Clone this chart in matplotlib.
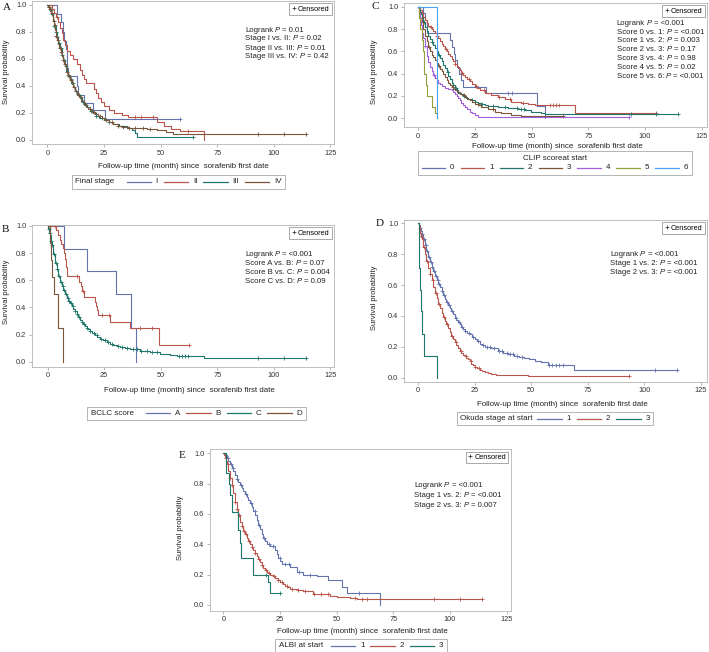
import numpy as np
import matplotlib
matplotlib.use('Agg')
import matplotlib.pyplot as plt
from matplotlib.lines import Line2D
from matplotlib.offsetbox import TextArea, DrawingArea, HPacker, VPacker, AnchoredOffsetbox

plt.rcParams['font.family'] = ['Liberation Sans', 'DejaVu Sans']

# ---------------- DATA ----------------
x_ticks = [0, 25, 50, 75, 100, 125]
y_ticks = [0.0, 0.2, 0.4, 0.6, 0.8, 1.0]
x_label = "Follow-up time (month) since  sorafenib first date"
y_label = "Survival probability"

# Panel A: Final stage
A_title = "Final stage"
A_labels = ["I", "II", "III", "IV"]
A_I_t = [4.1, 6.0, 6.7, 7.3, 8.0, 8.5, 8.8, 9.0, 13.0, 13.7, 16.0, 20.0, 25.5]
A_I_s = [0.93, 0.87, 0.80, 0.73, 0.67, 0.60, 0.53, 0.47, 0.40, 0.33, 0.27, 0.22, 0.155]
A_I_c = [58.4]
A_II_t = [2.0, 2.9, 3.8, 4.7, 5.5, 6.3, 7.0, 7.7, 8.5, 10.0, 11.5, 13.0, 14.4, 15.3, 16.2, 17.0,
          20.5, 21.5, 22.5, 23.5, 25.0, 27.0, 29.5, 33.0, 35.5, 48.3, 51.5, 54.5, 58.5, 69.0]
A_II_s = [0.97, 0.94, 0.91, 0.87, 0.83, 0.79, 0.74, 0.70, 0.66, 0.63, 0.60, 0.56, 0.52, 0.48, 0.45, 0.42,
          0.38, 0.35, 0.31, 0.28, 0.25, 0.22, 0.20, 0.185, 0.17, 0.13, 0.10, 0.08, 0.065, 0.0]
A_II_c = [4.2, 38.5, 41.5, 46.5, 62.0]
A_III_t = [0.6, 1.2, 1.8, 2.4, 3.0, 3.6, 4.2, 4.9, 5.6, 6.3, 7.0, 7.6, 8.3, 9.0, 9.8, 10.6, 11.5, 12.4,
           13.2, 14.2, 15.2, 16.2, 17.4, 18.6, 20.0, 21.5, 23.0, 25.0, 27.0, 29.0, 31.5, 35.0, 37.5, 38.5, 39.5]
A_III_s = [0.98, 0.96, 0.93, 0.89, 0.84, 0.80, 0.76, 0.72, 0.68, 0.63, 0.59, 0.55, 0.51, 0.48, 0.45, 0.42,
           0.39, 0.36, 0.33, 0.31, 0.28, 0.26, 0.24, 0.215, 0.20, 0.18, 0.165, 0.15, 0.13, 0.115, 0.10, 0.085,
           0.07, 0.05, 0.022]
A_III_c = [0.8, 1.5, 2.2, 3.1, 3.7, 4.4, 5.1, 5.8, 6.6, 7.3, 8.1, 9.2, 10.3, 11.1, 12.6, 14.1, 15.6,
           17.1, 19.2, 21.6, 24.2, 27.3, 64.2]
A_IV_t = [0.4, 0.8, 1.2, 1.6, 2.0, 2.6, 3.0, 3.4, 3.8, 4.3, 4.8, 5.3, 5.8, 6.3, 6.9, 7.4, 8.0, 8.5, 9.2,
          10.0, 10.8, 11.5, 12.3, 13.0, 14.0, 15.0, 16.0, 17.0, 18.0, 19.5, 21.0, 22.5, 24.0, 25.5, 27.0,
          29.0, 31.0, 33.0, 36.0, 40.0, 44.0, 48.5, 52.5, 55.5]
A_IV_s = [0.985, 0.97, 0.955, 0.94, 0.92, 0.88, 0.85, 0.81, 0.77, 0.74, 0.71, 0.68, 0.65, 0.62, 0.59,
          0.56, 0.53, 0.50, 0.47, 0.44, 0.415, 0.39, 0.365, 0.34, 0.315, 0.29, 0.265, 0.245, 0.23, 0.21,
          0.19, 0.175, 0.16, 0.145, 0.13, 0.115, 0.105, 0.098, 0.09, 0.085, 0.08, 0.07, 0.06, 0.045]
A_IV_c = [0.5, 1.1, 1.9, 2.7, 3.3, 4.0, 4.6, 5.5, 6.1, 7.0, 7.8, 8.7, 9.6, 10.5, 11.9, 13.3, 14.8,
          16.4, 18.6, 20.4, 23.1, 25.7, 28.4, 31.2, 33.6, 36.2, 38.7, 42.1, 45.2, 93.0, 104.3, 114.4]
A_stat_names = ["Logrank", "Stage I vs. II:", "Stage II vs. III:", "Stage III vs. IV:"]
A_stat_vals = ["0.01", "0.02", "0.01", "0.42"]

# Panel B: BCLC score
B_title = "BCLC score"
B_labels = ["A", "B", "C", "D"]
B_A_t = [7.4, 17.5, 30.2, 36.7, 38.9]
B_A_s = [0.833, 0.667, 0.5, 0.25, 0.0]
B_A_c = []
B_B_t = [3.7, 4.5, 5.3, 6.0, 6.6, 7.2, 7.7, 8.2, 8.7, 14.0, 14.6, 15.0, 16.2, 20.8, 21.5, 22.0, 22.3,
         27.7, 36.3, 49.4]
B_B_s = [0.97, 0.93, 0.90, 0.87, 0.835, 0.80, 0.76, 0.70, 0.63, 0.59, 0.555, 0.52, 0.48, 0.44, 0.41,
         0.38, 0.344, 0.295, 0.25, 0.125]
B_B_c = [3.2, 12.8, 15.6, 24.1, 27.0, 40.8, 46.0, 62.6]
B_C_t = [0.3, 0.7, 1.0, 1.4, 1.8, 2.2, 2.5, 3.2, 4.0, 4.7, 5.5, 6.2, 6.9, 7.6, 8.4, 9.1, 9.9, 10.6,
         11.3, 12.0, 12.8, 13.5, 14.3, 15.0, 15.8, 16.5, 17.2, 18.0, 18.7, 19.8, 20.9, 22.0, 23.1, 24.6,
         26.1, 27.5, 29.0, 30.5, 32.0, 34.2, 36.4, 40.8, 45.3, 49.7, 54.1, 57.0, 69.0]
B_C_s = [0.98, 0.95, 0.93, 0.89, 0.86, 0.82, 0.79, 0.73, 0.68, 0.63, 0.59, 0.56, 0.53, 0.50, 0.47,
         0.45, 0.43, 0.41, 0.39, 0.37, 0.35, 0.33, 0.31, 0.295, 0.28, 0.265, 0.25, 0.238, 0.225, 0.212,
         0.20, 0.185, 0.17, 0.157, 0.145, 0.132, 0.12, 0.115, 0.11, 0.10, 0.09, 0.08, 0.07, 0.06, 0.05,
         0.04, 0.028]
B_C_c = [0.5, 0.9, 1.6, 2.1, 2.8, 3.5, 4.3, 5.0, 5.8, 6.6, 7.3, 8.0, 8.9, 9.6, 10.4, 11.1, 12.2, 13.1,
         14.0, 15.3, 16.2, 17.5, 18.9, 20.3, 21.8, 23.6, 25.4, 26.8, 28.6, 30.9, 33.0, 35.1, 37.9, 39.6,
         41.4, 43.8, 46.3, 48.5, 57.9, 59.3, 60.6, 62.2, 93.0, 104.3, 114.4]
B_D_t = [1.2, 1.5, 1.8, 2.8, 4.7, 6.9]
B_D_s = [0.875, 0.75, 0.625, 0.5, 0.25, 0.0]
B_D_c = []
B_stat_names = ["Logrank", "Score A vs. B:", "Score B vs. C:", "Score C vs. D:"]
B_stat_vals = ["<0.001", "0.07", "0.004", "0.09"]

# Panel C: CLIP score at start
C_title = "CLIP scoreat start"
C_labels = ["0", "1", "2", "3", "4", "5", "6"]
C_0_t = [2.2, 3.0, 3.7, 13.9, 14.8, 15.6, 16.4, 17.2, 18.0, 19.0, 19.8, 30.0, 52.5, 55.8]
C_0_s = [0.94, 0.88, 0.76, 0.70, 0.64, 0.58, 0.52, 0.46, 0.40, 0.34, 0.28, 0.225, 0.11, 0.0]
C_0_c = [39.6, 41.2]
C_1_t = [0.7, 1.5, 2.2, 2.9, 3.7, 4.4, 5.1, 5.9, 6.6, 7.3, 8.1, 8.8, 9.5, 10.3, 11.0, 11.7, 12.5, 13.2,
         13.9, 14.7, 15.4, 16.1, 16.9, 17.6, 18.3, 19.0, 19.8, 20.5, 21.6, 22.7, 23.8, 24.9, 26.0, 27.1,
         29.3, 32.2, 35.2, 38.1, 41.0, 45.4, 48.4, 51.3, 68.9]
C_1_s = [0.97, 0.94, 0.91, 0.88, 0.855, 0.83, 0.815, 0.80, 0.78, 0.76, 0.74, 0.72, 0.695, 0.67, 0.645,
         0.62, 0.60, 0.58, 0.555, 0.53, 0.51, 0.49, 0.47, 0.45, 0.43, 0.41, 0.39, 0.37, 0.35, 0.33, 0.31,
         0.29, 0.27, 0.25, 0.23, 0.21, 0.19, 0.17, 0.15, 0.14, 0.13, 0.115, 0.05]
C_1_c = [5.5, 8.3, 12.1, 16.3, 19.2, 22.4, 25.3, 29.0, 35.6, 40.5, 46.1, 57.9, 59.3, 60.6, 62.2, 104.8]
C_2_t = [0.3, 0.7, 1.1, 1.5, 2.2, 2.9, 3.7, 4.4, 5.1, 5.9, 6.6, 7.3, 8.1, 8.8, 9.5, 10.3, 11.0, 11.7,
         12.5, 13.2, 13.9, 14.7, 15.4, 16.1, 16.9, 17.6, 18.7, 19.8, 20.9, 22.0, 23.5, 24.9, 26.4, 27.8,
         29.3, 30.8, 35.2, 39.6, 44.0, 46.9, 49.8, 54.2, 55.7]
C_2_s = [0.98, 0.95, 0.93, 0.90, 0.86, 0.82, 0.78, 0.74, 0.71, 0.68, 0.655, 0.63, 0.60, 0.57, 0.54,
         0.51, 0.48, 0.45, 0.415, 0.38, 0.35, 0.32, 0.295, 0.27, 0.25, 0.23, 0.215, 0.20, 0.185, 0.17,
         0.16, 0.15, 0.14, 0.13, 0.12, 0.11, 0.10, 0.09, 0.08, 0.07, 0.055, 0.045, 0.035]
C_2_c = [2.6, 6.2, 9.1, 12.9, 16.6, 20.2, 23.7, 28.1, 32.8, 38.3, 43.6, 45.2, 46.8, 93.8, 104.8, 114.3]
C_3_t = [0.4, 0.7, 1.5, 2.2, 2.9, 3.7, 4.4, 5.1, 5.9, 6.6, 7.3, 8.1, 8.8, 9.5, 10.3, 11.0, 11.7, 12.5,
         13.2, 13.9, 14.7, 15.4, 16.1, 17.2, 18.3, 19.4, 20.5, 21.6, 22.7, 23.8, 24.9, 26.4, 27.8, 30.8,
         33.7, 36.6, 41.0, 45.4]
C_3_s = [0.95, 0.90, 0.86, 0.80, 0.74, 0.69, 0.64, 0.60, 0.57, 0.545, 0.52, 0.495, 0.47, 0.445, 0.42,
         0.395, 0.37, 0.345, 0.32, 0.30, 0.28, 0.265, 0.25, 0.235, 0.22, 0.205, 0.19, 0.175, 0.16, 0.145,
         0.13, 0.115, 0.10, 0.08, 0.06, 0.05, 0.03, 0.02]
C_3_c = [4.9, 9.2, 15.1, 20.1, 26.2, 33.1, 63.7]
C_4_t = [0.4, 0.7, 1.1, 1.5, 1.8, 2.2, 2.9, 3.7, 4.4, 5.1, 5.9, 6.6, 7.3, 8.1, 8.8, 9.5, 10.3, 11.7,
         13.2, 14.7, 15.4, 16.1, 16.9, 17.6, 18.3, 19.0, 19.8, 20.5, 21.6, 22.7, 23.8, 24.9, 26.4]
C_4_s = [0.94, 0.88, 0.84, 0.80, 0.76, 0.72, 0.65, 0.56, 0.50, 0.46, 0.42, 0.39, 0.36, 0.34, 0.32,
         0.305, 0.29, 0.27, 0.26, 0.25, 0.235, 0.22, 0.20, 0.18, 0.16, 0.14, 0.12, 0.10, 0.08, 0.06,
         0.045, 0.03, 0.015]
C_4_c = [3.1, 7.0, 93.0]
C_5_t = [0.4, 0.8, 1.5, 1.9, 2.3, 2.7, 3.2, 3.7, 6.2, 7.3, 8.1]
C_5_s = [0.90, 0.80, 0.70, 0.60, 0.50, 0.40, 0.30, 0.20, 0.10, 0.05, 0.0]
C_5_c = []
C_6_t = [8.4]
C_6_s = [0.0]
C_6_c = []
C_stat_names = ["Logrank", "Score 0 vs. 1:", "Score 1 vs. 2:", "Score 2 vs. 3:",
                "Score 3 vs. 4:", "Score 4 vs. 5:", "Score 5 vs. 6:"]
C_stat_vals = ["<0.001", "<0.001", "0.003", "0.17", "0.98", "0.02", "<0.001"]

# Panel D: Okuda stage at start
D_title = "Okuda stage at start"
D_labels = ["1", "2", "3"]
D_1_t = [0.3, 0.7, 1.1, 1.5, 2.2, 2.9, 3.6, 4.4, 5.1, 5.9, 6.6, 7.4, 8.1, 8.8, 9.6, 10.3, 11.0, 11.8,
         12.5, 13.2, 14.0, 14.7, 15.4, 16.2, 16.9, 17.6, 18.4, 19.1, 19.8, 20.6, 21.7, 22.8, 23.9, 25.0,
         26.1, 27.2, 28.3, 29.4, 32.4, 35.3, 37.5, 39.7, 42.6, 44.8, 47.0, 49.2, 51.5, 54.4, 57.4, 69.1]
D_1_s = [0.99, 0.97, 0.95, 0.93, 0.90, 0.86, 0.82, 0.78, 0.75, 0.72, 0.69, 0.66, 0.635, 0.61, 0.585,
         0.56, 0.535, 0.51, 0.49, 0.47, 0.45, 0.43, 0.41, 0.39, 0.375, 0.36, 0.345, 0.33, 0.317, 0.305,
         0.292, 0.28, 0.265, 0.25, 0.235, 0.22, 0.21, 0.20, 0.19, 0.17, 0.163, 0.155, 0.14, 0.133, 0.125,
         0.118, 0.11, 0.10, 0.085, 0.052]
D_1_c = [0.9, 1.8, 2.6, 3.3, 4.1, 4.8, 5.6, 6.3, 7.1, 7.9, 8.6, 9.4, 10.6, 11.5, 12.9, 13.8, 15.1,
         16.6, 18.0, 19.5, 20.9, 22.4, 24.2, 26.5, 28.8, 30.6, 31.9, 33.6, 35.8, 37.2, 39.1, 40.4, 41.8,
         43.5, 45.9, 57.7, 59.2, 60.8, 62.3, 64.1, 104.9, 114.7]
D_2_t = [0.3, 0.7, 1.1, 1.5, 2.2, 2.9, 3.6, 4.4, 5.1, 5.9, 6.6, 7.4, 8.1, 8.8, 9.6, 10.3, 11.0, 11.8,
         12.5, 13.2, 14.0, 14.7, 15.4, 16.2, 16.9, 17.6, 18.4, 19.1, 19.8, 20.6, 21.3, 22.1, 22.8, 23.5,
         24.3, 25.0, 26.1, 27.2, 28.3, 29.4, 30.9, 32.4, 34.6, 36.8, 48.5]
D_2_s = [0.98, 0.94, 0.92, 0.90, 0.85, 0.80, 0.755, 0.71, 0.67, 0.63, 0.59, 0.55, 0.515, 0.48, 0.45,
         0.42, 0.395, 0.37, 0.345, 0.32, 0.295, 0.27, 0.25, 0.23, 0.21, 0.19, 0.175, 0.16, 0.15, 0.14,
         0.13, 0.12, 0.105, 0.09, 0.08, 0.07, 0.06, 0.05, 0.042, 0.035, 0.03, 0.025, 0.02, 0.015, 0.008]
D_2_c = [1.3, 2.5, 3.9, 5.3, 6.4, 7.9, 9.3, 11.2, 12.8, 14.9, 16.8, 18.9, 21.0, 23.2, 25.3, 26.8, 93.4]
D_3_t = [0.2, 0.4, 0.9, 1.2, 1.5, 2.5, 8.1]
D_3_s = [0.857, 0.714, 0.571, 0.429, 0.286, 0.143, 0.0]
D_3_c = []
D_stat_names = ["Logrank", "Stage 1 vs. 2:", "Stage 2 vs. 3:"]
D_stat_vals = ["<0.001", "<0.001", "<0.001"]

# Panel E: ALBI at start
E_title = "ALBI at start"
E_labels = ["1", "2", "3"]
E_1_t = [0.7, 1.5, 2.2, 2.9, 3.7, 4.4, 5.1, 5.9, 6.6, 7.4, 8.1, 8.8, 9.6, 10.3, 11.0, 11.8, 12.5, 13.2,
         14.0, 14.7, 15.4, 16.2, 16.9, 17.6, 18.4, 19.1, 20.6, 22.8, 23.5, 24.3, 25.0, 25.7, 29.4, 32.4,
         35.3, 41.2, 46.3, 52.2, 54.4, 69.1]
E_1_s = [0.99, 0.97, 0.95, 0.93, 0.905, 0.88, 0.855, 0.83, 0.81, 0.79, 0.77, 0.75, 0.73, 0.71, 0.69,
         0.67, 0.645, 0.62, 0.59, 0.56, 0.53, 0.50, 0.47, 0.44, 0.42, 0.40, 0.39, 0.36, 0.335, 0.31, 0.29,
         0.27, 0.25, 0.22, 0.20, 0.19, 0.165, 0.12, 0.077, 0.0]
E_1_c = [1.9, 3.3, 4.1, 6.2, 7.9, 9.9, 12.1, 13.8, 15.9, 17.9, 20.1, 22.1, 24.8, 27.1, 29.0, 33.2,
         38.1, 60.0]
E_2_t = [0.4, 0.8, 1.2, 1.5, 2.2, 2.9, 3.7, 4.4, 5.1, 5.9, 6.6, 7.4, 8.1, 8.8, 9.6, 10.3, 11.0, 11.8,
         12.5, 13.2, 14.0, 14.7, 15.4, 16.2, 16.9, 17.6, 18.4, 19.1, 19.8, 20.6, 21.7, 22.8, 23.9, 25.0,
         26.1, 27.2, 28.3, 29.4, 32.4, 35.3, 39.7, 44.1, 47.0, 50.0, 55.9, 58.8]
E_2_s = [0.99, 0.97, 0.95, 0.93, 0.88, 0.84, 0.79, 0.74, 0.68, 0.63, 0.59, 0.55, 0.52, 0.49, 0.465,
         0.44, 0.42, 0.40, 0.38, 0.36, 0.34, 0.32, 0.30, 0.28, 0.262, 0.245, 0.232, 0.22, 0.21, 0.20,
         0.188, 0.175, 0.162, 0.15, 0.138, 0.125, 0.115, 0.105, 0.10, 0.09, 0.075, 0.07, 0.06, 0.05,
         0.045, 0.04]
E_2_c = [1.0, 2.0, 3.1, 4.0, 5.2, 6.1, 7.0, 8.2, 9.1, 10.0, 11.2, 12.6, 14.1, 15.6, 17.0, 18.6, 20.1,
         22.2, 24.1, 26.0, 28.1, 30.2, 33.0, 36.1, 40.2, 43.1, 46.0, 58.0, 61.0, 63.2, 93.0, 104.4, 114.0]
E_3_t = [1.0, 2.5, 2.8, 3.7, 6.6, 7.4, 7.8, 13.2, 19.5, 20.6]
E_3_s = [0.87, 0.80, 0.725, 0.615, 0.495, 0.41, 0.31, 0.20, 0.15, 0.077]
E_3_c = [19.0, 25.0]
E_stat_names = ["Logrank", "Stage 1 vs. 2:", "Stage 2 vs. 3:"]
E_stat_vals = ["<0.001", "<0.001", "0.007"]

# ---------------- STYLE ----------------
COL = ['#6273ad', '#b9554a', '#1f766c', '#7a5538', '#a45fdd', '#96a03a', '#4aa3f2']
W, H = 709, 652
FS = 5.4
LEG_FS = 5.75

fig = plt.figure(figsize=(W / 100, H / 100), dpi=100)
renderer = fig.canvas.get_renderer()


def fx(px):
    return px / W


def fy(py):
    return 1 - py / H


def make_ax(l, t, r, b, xlim, ylim):
    ax = fig.add_axes([fx(l), fy(b), (r - l) / W, (b - t) / H])
    ax.set_xlim(xlim)
    ax.set_ylim(ylim)
    ax.set_xticks(x_ticks)
    ax.set_xticklabels([str(v) for v in x_ticks])
    ax.set_yticks(y_ticks)
    ax.set_yticklabels(['%.1f' % v for v in y_ticks])
    for sp in ax.spines.values():
        sp.set_color('#b5b5b5')
        sp.set_linewidth(0.6)
    ax.tick_params(length=2.5, width=0.5, color='#999999', labelsize=FS - 0.1,
                   labelcolor='#333333', pad=1.5)
    return ax


def km(ax, t, s, cens, color):
    t = np.asarray(t, float)
    s = np.asarray(s, float)
    tmax = max(t.max(), max(cens) if len(cens) else 0)
    xs = np.r_[0, t, tmax]
    ys = np.r_[1, s, s[-1]]
    ax.step(xs, ys, where='post', color=color, lw=0.8)
    if len(cens):
        c = np.asarray(cens, float)
        idx = np.searchsorted(t, c, side='right')
        cy = np.r_[1, s][idx]
        ax.plot(c, cy, ls='none', marker='+', color=color, ms=3.2, mew=0.6)


def censored_box(ax):
    h = Line2D([], [], ls='none', marker='+', color='#333333', ms=3.2, mew=0.55)
    lg = ax.legend([h], ['Censored'], loc='upper right', fontsize=FS - 0.1, frameon=True,
                   fancybox=False, edgecolor='#9a9a9a', framealpha=1, handlelength=0.6,
                   handletextpad=0.3, borderpad=0.3, borderaxespad=0.3)
    lg.get_frame().set_linewidth(0.6)


STAT_FS = FS + 0.2


def text_w(s, style='normal'):
    t = fig.text(0, 0, s, fontsize=STAT_FS, style=style)
    w = t.get_window_extent(renderer).width
    t.remove()
    return w


SPACE_W = text_w("a a") - text_w("aa")


def stats(names, vals, x, y0, dy):
    for i, (nm, v) in enumerate(zip(names, vals)):
        y = fy(y0 + i * dy)
        cur = x
        for part, sty in [(nm, 'normal'), ('P', 'italic'), ('= ' + v, 'normal')]:
            fig.text(fx(cur), y, part, fontsize=STAT_FS, color='#222222', style=sty,
                     ha='left', va='center')
            cur += text_w(part, sty) + SPACE_W


def labels(xl, yl):
    fig.text(fx(xl[0]), fy(xl[1]), x_label, fontsize=FS + 0.25, color='#222222',
             ha='center', va='center')
    fig.text(fx(yl[0]), fy(yl[1]), y_label, fontsize=FS + 0.1, color='#222222',
             ha='center', va='center', rotation=90)


def legend_box(title, labs, cols, cx, cy, title_top=False, linelen=17.5, sep=4.3, tsep=8.6):
    tp = dict(size=LEG_FS, color='#222222')
    entries = []
    for lab, col in zip(labs, cols):
        da = DrawingArea(linelen, 5, 0, 0)
        da.add_artist(Line2D([0, linelen], [2.5, 2.5], color=col, lw=0.9))
        entries.append(HPacker(children=[da, TextArea(lab, textprops=tp)], sep=3.4, align='center'))
    row = HPacker(children=entries, sep=sep, align='center')
    if title_top:
        pack = VPacker(children=[TextArea(title, textprops=tp), row], sep=1.5, align='center')
    else:
        pack = HPacker(children=[TextArea(title, textprops=tp), row], sep=tsep, align='center')
    box = AnchoredOffsetbox(loc='center', child=pack, pad=0.25, frameon=True,
                            bbox_to_anchor=(fx(cx), fy(cy)), bbox_transform=fig.transFigure,
                            borderpad=0)
    box.patch.set_edgecolor('#a8a8a8')
    box.patch.set_linewidth(0.6)
    box.patch.set_boxstyle('square', pad=0)
    fig.add_artist(box)


def letter(ch, x, y):
    fig.text(fx(x), fy(y), ch, fontsize=8, family='Liberation Serif', color='#111111',
             ha='center', va='center')


# ---------------- PANEL A ----------------
axA = make_ax(32, 1, 334, 144, (-6.8, 126.6), (-0.03, 1.027))
for (t, s, c), col in zip([(A_I_t, A_I_s, A_I_c), (A_II_t, A_II_s, A_II_c),
                           (A_III_t, A_III_s, A_III_c), (A_IV_t, A_IV_s, A_IV_c)], COL[:4]):
    km(axA, t, s, c, col)
censored_box(axA)
stats(A_stat_names, A_stat_vals, 245, 30, 9)
labels((183, 167), (6, 72))
legend_box(A_title, A_labels, COL[:4], 178.5, 182)
letter('A', 7, 7)

# ---------------- PANEL B ----------------
axB = make_ax(32, 225, 334, 366.7, (-6.9, 126.6), (-0.037, 1.007))
for (t, s, c), col in zip([(B_A_t, B_A_s, B_A_c), (B_B_t, B_B_s, B_B_c),
                           (B_C_t, B_C_s, B_C_c), (B_D_t, B_D_s, B_D_c)], COL[:4]):
    km(axB, t, s, c, col)
censored_box(axB)
stats(B_stat_names, B_stat_vals, 245, 254.3, 9)
labels((189, 390.7), (6, 292))
legend_box(B_title, B_labels, COL[:4], 196.5, 413.5)
letter('B', 5, 230)

# ---------------- PANEL C ----------------
axC = make_ax(404, 3, 707, 127, (-6.3, 127.3), (-0.078, 1.033))
for (t, s, c), col in zip([(C_0_t, C_0_s, C_0_c), (C_1_t, C_1_s, C_1_c), (C_2_t, C_2_s, C_2_c),
                           (C_3_t, C_3_s, C_3_c), (C_4_t, C_4_s, C_4_c), (C_5_t, C_5_s, C_5_c),
                           (C_6_t, C_6_s, C_6_c)], COL):
    km(axC, t, s, c, col)
censored_box(axC)
stats(C_stat_names, C_stat_vals, 616.7, 23.3, 8.8)
labels((557, 146), (375, 72))
legend_box(C_title, C_labels, COL, 555, 163, title_top=True, linelen=17, sep=4.4)
letter('C', 375.5, 6.5)

# ---------------- PANEL D ----------------
axD = make_ax(404, 220, 707, 381.7, (-6.3, 127.8), (-0.026, 1.022))
for (t, s, c), col in zip([(D_1_t, D_1_s, D_1_c), (D_2_t, D_2_s, D_2_c),
                           (D_3_t, D_3_s, D_3_c)], COL[:3]):
    km(axD, t, s, c, col)
censored_box(axD)
stats(D_stat_names, D_stat_vals, 610, 254.3, 9)
labels((562, 404), (375, 298))
legend_box(D_title, D_labels, COL[:3], 555, 418.5, tsep=3.5)
letter('D', 380, 224)

# ---------------- PANEL E ----------------
axE = make_ax(210, 449.3, 510.7, 610.7, (-5.9, 126.8), (-0.038, 1.026))
for (t, s, c), col in zip([(E_1_t, E_1_s, E_1_c), (E_2_t, E_2_s, E_2_c),
                           (E_3_t, E_3_s, E_3_c)], COL[:3]):
    km(axE, t, s, c, col)
censored_box(axE)
stats(E_stat_names, E_stat_vals, 414, 485.7, 9.7)
labels((362.5, 631.7), (181, 528))
legend_box(E_title, E_labels, COL[:3], 361, 645.5, tsep=6)
letter('E', 182, 455)

fig.savefig('out.png', dpi=100, facecolor='white')
